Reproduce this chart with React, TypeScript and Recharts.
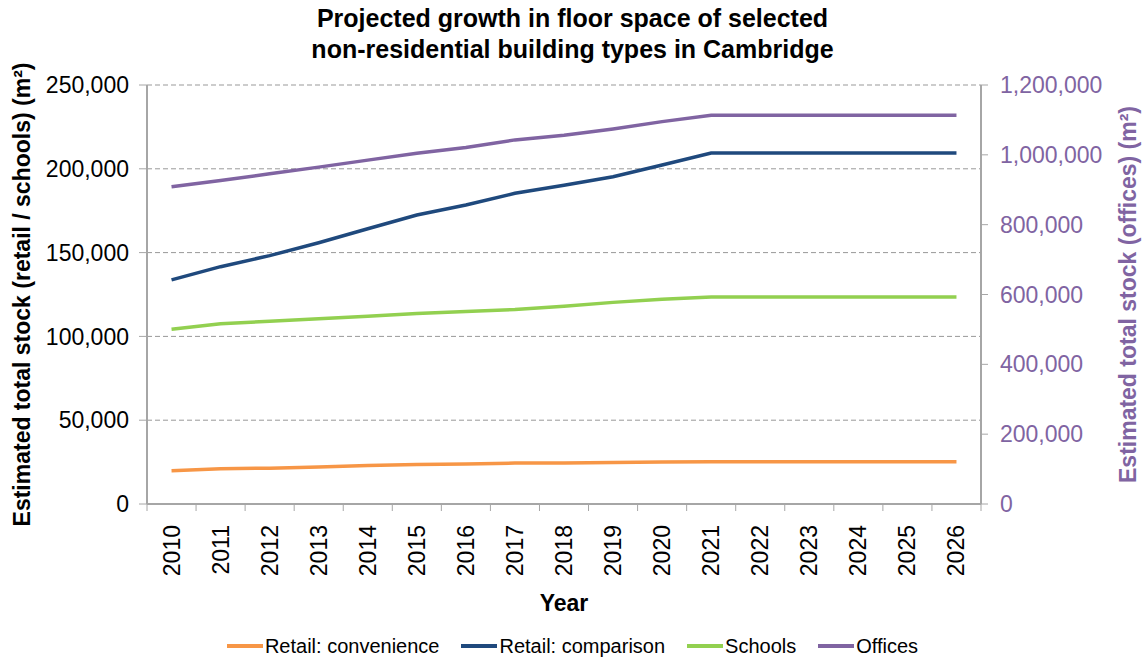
import React from "react";
import { CartesianGrid, Legend, Line, LineChart, XAxis, YAxis } from "recharts";

const years = ["2010", "2011", "2012", "2013", "2014", "2015", "2016", "2017", "2018", "2019", "2020", "2021", "2022", "2023", "2024", "2025", "2026"];
const convenience = [19900, 21100, 21400, 22100, 23000, 23600, 23900, 24400, 24500, 24700, 25100, 25200, 25200, 25200, 25200, 25200, 25200];
const comparison = [133700, 141600, 148200, 155900, 164200, 172400, 178400, 185400, 190200, 195300, 202300, 209400, 209400, 209400, 209400, 209400, 209400];
const schools = [104200, 107600, 109000, 110600, 112000, 113600, 114800, 116000, 118000, 120300, 122100, 123500, 123500, 123500, 123500, 123500, 123500];
const offices = [908600, 926600, 945700, 964800, 984800, 1004800, 1020800, 1042800, 1056200, 1074200, 1095100, 1113300, 1113300, 1113300, 1113300, 1113300, 1113300];

const leftTicks = [0, 50000, 100000, 150000, 200000, 250000];
const rightTicks = [0, 200000, 400000, 600000, 800000, 1000000, 1200000];

const series = [
  { key: "convenience", name: "Retail: convenience", color: "#F79646", axis: "left" },
  { key: "comparison", name: "Retail: comparison", color: "#1F497D", axis: "left" },
  { key: "schools", name: "Schools", color: "#92D050", axis: "left" },
  { key: "offices", name: "Offices", color: "#8064A2", axis: "right" },
];

const data = years.map((year, i) => ({
  year,
  convenience: convenience[i],
  comparison: comparison[i],
  schools: schools[i],
  offices: offices[i],
}));

const FONT = "'Liberation Sans', Arial, sans-serif";
const AXIS_GREY = "#A6A6A6";
const TICK_LEN = 7;
const YEAR_MARGIN = 21;
const fmt = (v: number) => v.toLocaleString("en-US");

// year label plus Excel-style tick marks on the category boundaries
function YearTick({ x, y, payload, index }: any) {
  const half = payload.offset || 0;
  const axisY = y - YEAR_MARGIN;
  const isLast = index === years.length - 1;
  return (
    <g>
      <line x1={x - half} x2={x - half} y1={axisY} y2={axisY + TICK_LEN} stroke={AXIS_GREY} />
      {isLast && <line x1={x + half} x2={x + half} y1={axisY} y2={axisY + TICK_LEN} stroke={AXIS_GREY} />}
      <text
        x={x}
        y={y}
        transform={`rotate(-90 ${x} ${y})`}
        textAnchor="end"
        dominantBaseline="central"
        fontSize={23}
        fontFamily={FONT}
        fill="#000"
      >
        {payload.value}
      </text>
    </g>
  );
}

function SideLabel({ viewBox, text, cx, color }: any) {
  const cy = viewBox.y + viewBox.height / 2;
  return (
    <text
      x={cx}
      y={cy}
      transform={`rotate(-90 ${cx} ${cy})`}
      textAnchor="middle"
      dominantBaseline="central"
      fontSize={23}
      fontWeight="bold"
      fontFamily={FONT}
      fill={color}
    >
      {text}
    </text>
  );
}

function LegendBox() {
  return (
    <div
      style={{
        height: 30,
        display: "flex",
        justifyContent: "center",
        alignItems: "center",
        fontFamily: FONT,
        fontSize: 20,
        color: "#000",
      }}
    >
      {series.map((s) => (
        <div key={s.key} style={{ display: "flex", alignItems: "center", margin: "0 11px" }}>
          <span style={{ display: "inline-block", width: 36, height: 4, background: s.color, marginRight: 2 }} />
          <span>{s.name}</span>
        </div>
      ))}
    </div>
  );
}

export default function App() {
  return (
    <div style={{ position: "relative", width: 1145, height: 661, background: "#fff" }}>
      <style>{"body{margin:0}"}</style>
      <div
        style={{
          position: "absolute",
          top: 3,
          left: 0,
          width: 1145,
          textAlign: "center",
          fontFamily: FONT,
          fontWeight: "bold",
          fontSize: 25,
          lineHeight: "31px",
          color: "#000",
          zIndex: 1,
        }}
      >
        Projected growth in floor space of selected
        <br />
        non-residential building types in Cambridge
      </div>
      <LineChart width={1145} height={661} data={data} margin={{ top: 85, right: 0, bottom: 0, left: 0 }}>
        <CartesianGrid vertical={false} yAxisId="left" stroke="#999" strokeDasharray="5 3" />
        <XAxis
          dataKey="year"
          scale="band"
          interval={0}
          axisLine={{ stroke: AXIS_GREY, strokeWidth: 2 }}
          tickLine={false}
          tickSize={0}
          tickMargin={YEAR_MARGIN}
          height={127}
          tick={<YearTick />}
          label={{ value: "Year", position: "insideBottom", offset: 20, fontSize: 23, fontWeight: "bold", fill: "#000", fontFamily: FONT }}
        />
        <YAxis
          yAxisId="left"
          domain={[0, 250000]}
          ticks={leftTicks}
          width={147}
          tickFormatter={fmt}
          axisLine={{ stroke: AXIS_GREY, strokeWidth: 2 }}
          tickLine={{ stroke: AXIS_GREY }}
          tickSize={8}
          tickMargin={10}
          tick={{ fontSize: 23, fill: "#000", fontFamily: FONT }}
          label={<SideLabel text="Estimated total stock (retail / schools) (m²)" cx={22} color="#000" />}
        />
        <YAxis
          yAxisId="right"
          orientation="right"
          domain={[0, 1200000]}
          ticks={rightTicks}
          width={164}
          tickFormatter={fmt}
          axisLine={{ stroke: AXIS_GREY, strokeWidth: 2 }}
          tickLine={{ stroke: AXIS_GREY }}
          tickSize={TICK_LEN}
          tickMargin={12}
          tick={{ fontSize: 23, fill: "#8064A2", fontFamily: FONT }}
          label={<SideLabel text="Estimated total stock (offices) (m²)" cx={1128} color="#8064A2" />}
        />
        <Legend verticalAlign="bottom" content={<LegendBox />} />
        {series.map((s) => (
          <Line
            key={s.key}
            yAxisId={s.axis}
            dataKey={s.key}
            name={s.name}
            type="linear"
            stroke={s.color}
            strokeWidth={3.5}
            dot={false}
            activeDot={false}
            isAnimationActive={false}
          />
        ))}
      </LineChart>
    </div>
  );
}
